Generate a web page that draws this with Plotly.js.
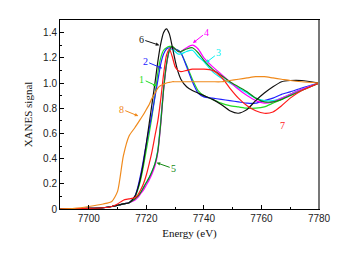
<!DOCTYPE html>
<html><head><meta charset="utf-8">
<script src="https://cdn.plot.ly/plotly-3.0.1.min.js"></script>
<style>html,body{margin:0;padding:0;background:#fff}</style>
</head><body><div id="chart" style="width:349px;height:260px"></div>
<script>
// Energy grid (eV)
const energy = [7690,7695,7700,7705,7708,7710,7712,7714,7716,7717,7718,7719,7720,7721,7722,7723,7724,7725,7726,7727,7728,7729,7730,7731,7732,7734,7736,7738,7740,7743,7746,7749,7752,7755,7758,7761,7764,7767,7770,7774,7780];

const s1 = [0,0.003,0.005,0.01,0.02,0.03,0.04,0.05,0.09,0.15,0.23,0.34,0.47,0.60,0.74,0.90,1.08,1.20,1.26,1.28,1.29,1.29,1.27,1.26,1.24,1.14,1.03,0.94,0.90,0.87,0.84,0.82,0.81,0.80,0.80,0.81,0.84,0.87,0.91,0.95,1.0];
const s2 = [0,0.003,0.005,0.01,0.02,0.03,0.04,0.05,0.10,0.17,0.27,0.39,0.52,0.64,0.76,0.89,1.02,1.15,1.23,1.27,1.28,1.28,1.27,1.26,1.24,1.13,1.01,0.92,0.89,0.88,0.87,0.86,0.85,0.84,0.84,0.86,0.88,0.91,0.93,0.96,1.0];
const s3 = [0,0.003,0.005,0.01,0.02,0.03,0.04,0.05,0.08,0.10,0.13,0.17,0.21,0.25,0.30,0.36,0.47,0.70,0.96,1.15,1.25,1.27,1.25,1.23,1.23,1.25,1.26,1.21,1.17,1.09,1.04,1.00,0.96,0.92,0.88,0.86,0.86,0.88,0.91,0.95,1.0];
const s4 = [0,0.003,0.005,0.01,0.02,0.03,0.04,0.05,0.07,0.09,0.12,0.15,0.19,0.23,0.28,0.34,0.45,0.67,0.94,1.14,1.26,1.28,1.27,1.25,1.25,1.28,1.30,1.27,1.20,1.13,1.07,1.01,0.95,0.90,0.86,0.84,0.85,0.88,0.91,0.95,1.0];
const s5 = [0,0.003,0.005,0.01,0.02,0.03,0.04,0.05,0.08,0.10,0.13,0.17,0.21,0.25,0.30,0.36,0.46,0.68,0.95,1.15,1.26,1.29,1.27,1.25,1.25,1.27,1.28,1.24,1.18,1.11,1.06,1.01,0.97,0.93,0.88,0.85,0.85,0.87,0.90,0.94,1.0];
const s6 = [0,0.003,0.005,0.01,0.02,0.03,0.04,0.05,0.10,0.16,0.25,0.37,0.52,0.68,0.84,1.00,1.17,1.31,1.40,1.43,1.39,1.29,1.18,1.09,1.03,0.97,0.94,0.92,0.90,0.87,0.83,0.78,0.76,0.79,0.86,0.92,0.97,1.01,1.02,1.02,1.0];
const s7 = [0,0.003,0.005,0.01,0.02,0.04,0.07,0.08,0.09,0.11,0.15,0.20,0.27,0.36,0.46,0.58,0.70,0.87,1.07,1.22,1.27,1.21,1.13,1.10,1.09,1.10,1.11,1.11,1.11,1.10,1.05,0.96,0.88,0.82,0.78,0.76,0.77,0.82,0.88,0.94,1.0];
const s8 = [0,0.005,0.02,0.04,0.06,0.14,0.42,0.58,0.645,0.68,0.715,0.75,0.79,0.83,0.88,0.92,0.96,0.98,0.99,1.0,1.005,1.01,1.01,1.01,1.01,1.01,1.01,1.01,1.01,1.01,1.01,1.02,1.03,1.04,1.05,1.05,1.04,1.03,1.02,1.01,1.0];

const names = ['1','2','3','4','5','6','7','8'];
const seriesValues = [s1,s2,s3,s4,s5,s6,s7,s8];
const colors = ['#22dd22','#2020ff','#00f0f0','#ff00ff','#118811','#111111','#ff1a1a','#f08a1c'];

const yTickVals = [0,0.2,0.4,0.6,0.8,1.0,1.2,1.4];
const yTickText = ['0','0.2','0.4','0.6','0.8','1.0','1.2','1.4'];
const xTickVals = [7700,7720,7740,7760,7780];

// label annotations: [name, arrow-tip energy, arrow-tip value, dx, dy]
const labelE = [7723.6,7725.5,7740.7,7736.2,7723.6,7724.5,7763.6,7717.2];
const labelV = [0.976,1.117,1.161,1.317,0.367,1.30,0.772,0.738];
const labelDx = [-15,-17,13,14,17,-18,11,-17];
const labelDy = [-7,-7,-10,-11,6,-6,14,-7];

const traces = names.map((n,i)=>({
  x: energy, y: seriesValues[i], type:'scatter', mode:'lines', name:n,
  line:{color:colors[i], width:1.2, shape:'spline', smoothing:0.6}, showlegend:false
}));

const annotations = names.map((n,i)=>({
  x: labelE[i], y: labelV[i], xref:'x', yref:'y', text:n,
  showarrow:true, arrowhead:2, arrowsize:0.7, arrowwidth:1, arrowcolor:colors[i],
  ax: labelDx[i], ay: labelDy[i],
  font:{family:'Liberation Serif', size:10, color:colors[i]}
}));

const layout = {
  width:349, height:260,
  margin:{l:60, r:30, t:20, b:51},
  paper_bgcolor:'#fff', plot_bgcolor:'#fff',
  xaxis:{range:[7690,7780], tickvals:xTickVals, ticks:'inside', ticklen:4, tickcolor:'#000',
    minor:{dtick:10, ticks:'inside', ticklen:2, tickcolor:'#000'},
    showline:true, linecolor:'#000', linewidth:1, mirror:true, showgrid:false, zeroline:false,
    tickfont:{family:'Liberation Sans', size:10, color:'#222'},
    title:{text:'Energy (eV)', font:{family:'Liberation Serif', size:11, color:'#111'}, standoff:6}},
  yaxis:{range:[0,1.5], tickvals:yTickVals, ticktext:yTickText, ticks:'inside', ticklen:4, tickcolor:'#000',
    minor:{tickvals:[0.1,0.3,0.5,0.7,0.9,1.1,1.3,1.5], ticks:'inside', ticklen:2, tickcolor:'#000'},
    showline:true, linecolor:'#000', linewidth:1, mirror:true, showgrid:false, zeroline:false,
    tickfont:{family:'Liberation Sans', size:10, color:'#222'},
    title:{text:'XANES signal', font:{family:'Liberation Serif', size:11, color:'#111'}, standoff:8}},
  annotations: annotations,
  shapes:[{type:'line', xref:'paper', yref:'paper', x0:1, x1:1, y0:0, y1:1, line:{color:'#777', width:2}}]
};

Plotly.newPlot('chart', traces, layout, {displayModeBar:false, staticPlot:true});
</script></body></html>
